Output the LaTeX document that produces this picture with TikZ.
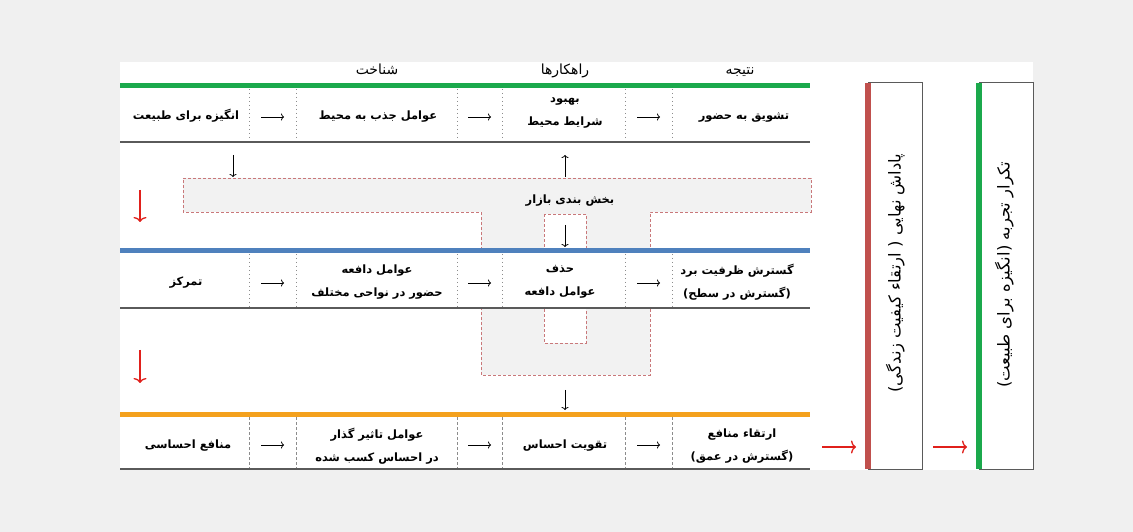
\documentclass[tikz,border=0pt]{standalone}
\usepackage{fontspec}
\newfontfamily\fa[Script=Arabic]{DejaVu Sans}
\TeXXeTstate=1
\usetikzlibrary{arrows.meta}
\newcommand{\RL}[1]{\beginR #1\endR}
\definecolor{bggray}{HTML}{F0F0F0}
\definecolor{lgreen}{HTML}{1BA94C}
\definecolor{lblue}{HTML}{4F81BD}
\definecolor{lorange}{HTML}{F4A11D}
\definecolor{boxred}{HTML}{C0504D}
\definecolor{arrred}{HTML}{E0201B}
\definecolor{dashred}{HTML}{C9787A}
\definecolor{tfill}{HTML}{F2F2F2}
\definecolor{rulegray}{HTML}{5A5A5A}
\definecolor{divgray}{HTML}{8C8C8C}
\begin{document}
\begin{tikzpicture}[x=1bp,y=-1bp,
  cell2/.style={align=center,inner sep=0pt,font=\fa\bfseries\fontsize{11.5}{23}\selectfont},
  cell/.style={cell2,text height=9bp,text depth=4bp},
  head/.style={inner sep=0pt,text height=11bp,text depth=4bp,font=\fa\fontsize{14}{16}\selectfont},
  vtext/.style={inner sep=0pt,rotate=90,text height=12bp,text depth=5bp,font=\fa\fontsize{16.5}{18}\selectfont},
  tarrow/.style={-{To[length=3bp,width=7bp]},line width=0.8bp,black},
  rarrow/.style={-{To[length=5bp,width=13bp]},line width=1.3bp,arrred},
  thick line/.style={line width=5bp},
  bottomrule/.style={line width=1.4bp,rulegray},
  dotdiv/.style={divgray,line width=0.8bp,dash pattern=on 0.8bp off 3.2bp},
  dashdiv/.style={divgray,line width=0.8bp,dash pattern=on 3bp off 2bp},
  tshape/.style={fill=tfill,draw=dashred,line width=0.8bp,dash pattern=on 3bp off 2bp}
]
\fill[bggray] (0,0) rectangle (1133,532);
\useasboundingbox (0,0) rectangle (1133,532);
\fill[white] (120,62) rectangle (1033,470);

% T-shaped market segmentation region
\draw[tshape] (183,178) -- (811,178) -- (811,212) -- (650,212) -- (650,375) -- (481,375) -- (481,212) -- (183,212) -- cycle;
\draw[tshape,fill=white] (544,214) rectangle (586,343);
\node[cell] (seg) at (570,201) {\RL{بخش بندی بازار}};

% headers
\node[head] (h1) at (377,71) {\RL{شناخت}};
\node[head] (h2) at (565,71) {\RL{راهکارها}};
\node[head] (h3) at (740,71) {\RL{نتیجه}};

% ---------- row 1 ----------
\draw[thick line,lgreen] (120,86) -- (810,86);
\draw[bottomrule] (120,142) -- (810,142);
\foreach \x in {249,296,457,502,625,672} \draw[dotdiv] (\x,89) -- (\x,141);
\node[cell] (a1) at (186,117) {\RL{انگیزه برای طبیعت}};
\node[cell] (a2) at (378,117) {\RL{عوامل جذب به محیط}};
\node[cell2] (a3) at (565,113) {\RL{بهبود}\\\RL{شرایط محیط}};
\node[cell] (a4) at (744,117) {\RL{تشویق به حضور}};
\coordinate (a12s) at (261,117); \coordinate (a12e) at (284,117);
\coordinate (a23s) at (468,117); \coordinate (a23e) at (491,117);
\coordinate (a34s) at (637,117); \coordinate (a34e) at (660,117);
\draw[tarrow] (a12s) -- (a12e);
\draw[tarrow] (a23s) -- (a23e);
\draw[tarrow] (a34s) -- (a34e);

% ---------- row 2 ----------
\fill[white] (120,251) rectangle (810,308);
\draw[thick line,lblue] (120,251) -- (810,251);
\draw[bottomrule] (120,308) -- (810,308);
\foreach \x in {249,296,457,502,625,672} \draw[dotdiv] (\x,254) -- (\x,307);
\node[cell] (b1) at (186,283) {\RL{تمرکز}};
\node[cell2] (b2) at (377,282) {\RL{عوامل دافعه}\\\RL{حضور در نواحی مختلف}};
\node[cell2] (b3) at (560,282) {\RL{حذف}\\\RL{عوامل دافعه}};
\node[cell2] (b4) at (737,282) {\RL{گسترش ظرفیت برد}\\\RL{(گسترش در سطح)}};
\coordinate (b12s) at (261,283); \coordinate (b12e) at (284,283);
\coordinate (b23s) at (468,283); \coordinate (b23e) at (491,283);
\coordinate (b34s) at (637,283); \coordinate (b34e) at (660,283);
\draw[tarrow] (b12s) -- (b12e);
\draw[tarrow] (b23s) -- (b23e);
\draw[tarrow] (b34s) -- (b34e);

% ---------- row 3 ----------
\draw[thick line,lorange] (120,414) -- (810,414);
\draw[bottomrule] (120,469) -- (810,469);
\foreach \x in {249,296,457,502,625,672} \draw[dashdiv] (\x,417) -- (\x,468);
\node[cell] (c1) at (188,446) {\RL{منافع احساسی}};
\node[cell2] (c2) at (377,446) {\RL{عوامل تاثیر گذار}\\\RL{در احساس کسب شده}};
\node[cell] (c3) at (565,446) {\RL{تقویت احساس}};
\node[cell2] (c4) at (742,446) {\RL{ارتقاء منافع}\\\RL{(گسترش در عمق)}};
\coordinate (c12s) at (261,445); \coordinate (c12e) at (284,445);
\coordinate (c23s) at (468,445); \coordinate (c23e) at (491,445);
\coordinate (c34s) at (637,445); \coordinate (c34e) at (660,445);
\draw[tarrow] (c12s) -- (c12e);
\draw[tarrow] (c23s) -- (c23e);
\draw[tarrow] (c34s) -- (c34e);

% vertical black arrows
\coordinate (v1s) at (233,155); \coordinate (v1e) at (233,177);
\draw[tarrow] (v1s) -- (v1e);
\coordinate (v2s) at (565,177); \coordinate (v2e) at (565,155);
\draw[tarrow] (v2s) -- (v2e);
\coordinate (v3s) at (565,225); \coordinate (v3e) at (565,247);
\draw[tarrow] (v3s) -- (v3e);
\coordinate (v4s) at (565,390); \coordinate (v4e) at (565,410);
\draw[tarrow] (v4s) -- (v4e);

% red arrows
\coordinate (r1s) at (140,190); \coordinate (r1e) at (140,222);
\draw[rarrow] (r1s) -- (r1e);
\coordinate (r2s) at (140,350); \coordinate (r2e) at (140,383);
\draw[rarrow] (r2s) -- (r2e);
\coordinate (r3s) at (822,447); \coordinate (r3e) at (856,447);
\draw[rarrow] (r3s) -- (r3e);
\coordinate (r4s) at (933,447); \coordinate (r4e) at (967,447);
\draw[rarrow] (r4s) -- (r4e);

% right boxes
\draw[rulegray,line width=1bp] (868,83) rectangle (922,469);
\draw[boxred,line width=6bp] (868,83) -- (868,469);
\node[vtext] (reward) at (897,273) {\RL{پاداش نهایی ( ارتقاء کیفیت زندگی)}};
\draw[rulegray,line width=1bp] (979,83) rectangle (1033,469);
\draw[lgreen,line width=6bp] (979,83) -- (979,469);
\node[vtext] (repeat) at (1006,275) {\RL{تکرار تجربه (انگیزه برای طبیعت)}};
\end{tikzpicture}
\end{document}
